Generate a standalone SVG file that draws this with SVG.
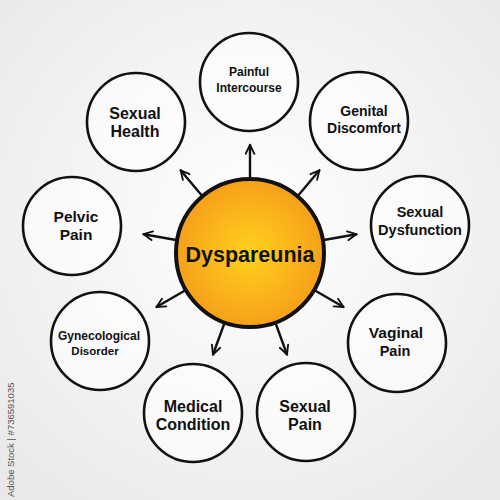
<svg xmlns="http://www.w3.org/2000/svg" width="500" height="500" viewBox="0 0 500 500">
  <defs>
    <radialGradient id="bg" cx="50%" cy="45%" r="70%">
      <stop offset="0%" stop-color="#ffffff"/>
      <stop offset="100%" stop-color="#e9e9e9"/>
    </radialGradient>
    <radialGradient id="hub" cx="50%" cy="50%" r="50%">
      <stop offset="0%" stop-color="#FFD21C"/>
      <stop offset="100%" stop-color="#F6A01A"/>
    </radialGradient>
    <marker id="arr" viewBox="0 0 10 10" refX="9" refY="5" markerWidth="11" markerHeight="11" markerUnits="userSpaceOnUse" orient="auto">
      <path d="M1,1 L9,5 L1,9" fill="none" stroke="#111" stroke-width="1.7" stroke-linecap="round" stroke-linejoin="round"/>
    </marker>
    <style>
      .node circle { fill: #ffffff; fill-opacity: 0.6; stroke: #111; stroke-width: 2.6; }
      .lbl { font-family: "Liberation Sans", Arial, sans-serif; font-weight: bold; fill: #111; text-anchor: middle; }
      .conn line { stroke: #111; stroke-width: 2.4; stroke-linecap: round; marker-end: url(#arr); }
    </style>
  </defs>

  <rect x="0" y="0" width="500" height="500" fill="url(#bg)"/>

  <g id="connectors" class="conn">
    <line x1="250.0" y1="178.0" x2="250.0" y2="145.0"/>
    <line x1="298.2" y1="195.5" x2="319.4" y2="170.3"/>
    <line x1="323.9" y1="240.0" x2="356.4" y2="234.2"/>
    <line x1="315.0" y1="290.5" x2="343.5" y2="307.0"/>
    <line x1="275.7" y1="323.5" x2="287.0" y2="354.5"/>
    <line x1="224.3" y1="323.5" x2="213.0" y2="354.5"/>
    <line x1="185.0" y1="290.5" x2="156.5" y2="307.0"/>
    <line x1="176.1" y1="240.0" x2="143.6" y2="234.2"/>
    <line x1="201.8" y1="195.5" x2="180.6" y2="170.3"/>
  </g>

  <g id="hub-dyspareunia">
    <circle cx="250" cy="253" r="74" fill="url(#hub)" stroke="#111" stroke-width="4"/>
    <text class="lbl" x="250" y="262" font-size="21.5">Dyspareunia</text>
  </g>

  <g id="node-painful-intercourse" class="node">
    <circle cx="249" cy="82" r="49"/>
    <text class="lbl" x="249" y="76" font-size="12">Painful</text>
    <text class="lbl" x="249" y="92" font-size="12">Intercourse</text>
  </g>

  <g id="node-genital-discomfort" class="node">
    <circle cx="359" cy="121" r="49"/>
    <text class="lbl" x="364" y="116" font-size="14">Genital</text>
    <text class="lbl" x="364" y="133" font-size="14">Discomfort</text>
  </g>

  <g id="node-sexual-dysfunction" class="node">
    <circle cx="420" cy="225" r="49"/>
    <text class="lbl" x="420" y="217" font-size="14.5">Sexual</text>
    <text class="lbl" x="420" y="235" font-size="14.5">Dysfunction</text>
  </g>

  <g id="node-vaginal-pain" class="node">
    <circle cx="397" cy="343" r="49"/>
    <text class="lbl" x="396" y="338" font-size="15.5">Vaginal</text>
    <text class="lbl" x="395" y="356" font-size="14.5">Pain</text>
  </g>

  <g id="node-sexual-pain" class="node">
    <circle cx="306" cy="412" r="49"/>
    <text class="lbl" x="305" y="412" font-size="16">Sexual</text>
    <text class="lbl" x="305" y="430" font-size="16">Pain</text>
  </g>

  <g id="node-medical-condition" class="node">
    <circle cx="193" cy="413" r="49"/>
    <text class="lbl" x="193" y="412" font-size="16">Medical</text>
    <text class="lbl" x="193" y="430" font-size="16">Condition</text>
  </g>

  <g id="node-gynecological-disorder" class="node">
    <circle cx="100" cy="341" r="49"/>
    <text class="lbl" x="99" y="340" font-size="12">Gynecological</text>
    <text class="lbl" x="95" y="355" font-size="11.5">Disorder</text>
  </g>

  <g id="node-pelvic-pain" class="node">
    <circle cx="72" cy="226" r="49"/>
    <text class="lbl" x="76" y="222" font-size="15.5">Pelvic</text>
    <text class="lbl" x="76" y="240" font-size="15.5">Pain</text>
  </g>

  <g id="node-sexual-health" class="node">
    <circle cx="136" cy="122" r="49"/>
    <text class="lbl" x="135" y="119" font-size="16">Sexual</text>
    <text class="lbl" x="135" y="137" font-size="16">Health</text>
  </g>

  <text x="0" y="0" transform="translate(14,497) rotate(-90)" font-family="Liberation Sans, Arial, sans-serif" font-size="9.5" fill="#555">Adobe Stock | #736591035</text>
</svg>
